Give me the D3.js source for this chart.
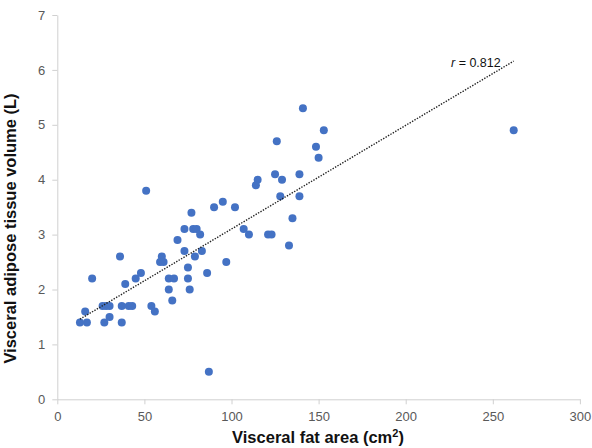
<!DOCTYPE html>
<html><head><meta charset="utf-8">
<script src="https://cdn.jsdelivr.net/npm/d3@7/dist/d3.min.js"></script>
<style>body{margin:0;background:#fff}svg{display:block}</style>
</head><body>
<script>
const fatArea = [20,51,36,39,45,48,60,59,61,64,67,64,66,73,69,73,77,78,80,82,79,83,75,75,76,86,90,95,102,97,13,17,16,26,28,30,27,30,37,41,43,37,54,56,87,141,153,126,148.5,150,125,139,115,114,129,128,139,135,107,110,121,123,133,262];
const vatVolume = [2.2,3.8,2.6,2.1,2.2,2.3,2.6,2.5,2.5,2.2,2.2,2.0,1.8,3.1,2.9,2.7,3.4,3.1,3.1,3.0,2.6,2.7,2.4,2.2,2.0,2.3,3.5,3.6,3.5,2.5,1.4,1.4,1.6,1.7,1.7,1.7,1.4,1.5,1.7,1.7,1.7,1.4,1.7,1.6,0.5,5.3,4.9,4.7,4.6,4.4,4.1,4.1,4.0,3.9,4.0,3.7,3.7,3.3,3.1,3.0,3.0,3.0,2.8,4.9];
const trendX = [13, 262];
const trendY = [1.46, 6.16];
const xTicks = [0,50,100,150,200,250,300];
const yTicks = [0,1,2,3,4,5,6,7];
const rLabel = "0.812";

const W = 592, H = 448;
const svg = d3.select("body").append("svg").attr("width", W).attr("height", H);
const x = d3.scaleLinear().domain([0,300]).range([57.3,579.9]);
const y = d3.scaleLinear().domain([0,7]).range([399.3,15]);
const font = "Arial, 'Liberation Sans', sans-serif";

const gx = svg.append("g").attr("transform", `translate(0,${y(0)})`)
  .call(d3.axisBottom(x).tickValues(xTicks).tickFormat(d3.format("d")).tickSize(5).tickPadding(7).tickSizeOuter(0));
const gy = svg.append("g").attr("transform", `translate(${x(0)},0)`)
  .call(d3.axisLeft(y).tickValues(yTicks).tickFormat(d3.format("d")).tickSize(5).tickPadding(7).tickSizeOuter(0));
[gx, gy].forEach(g => {
  g.select(".domain").attr("stroke", "#d0d0d0").attr("stroke-width", 1);
  g.selectAll(".tick line").attr("stroke", "#d0d0d0");
  g.selectAll(".tick text").attr("fill", "#595959").style("font-family", font).style("font-size", "13px");
});

const pts = fatArea.map((v,i) => [v, vatVolume[i]]);
svg.append("g").selectAll("circle").data(pts).join("circle")
  .attr("cx", d => x(d[0])).attr("cy", d => y(d[1])).attr("r", 4)
  .attr("fill", "#4472C4");

svg.append("line")
  .attr("x1", x(trendX[0])).attr("y1", y(trendY[0]))
  .attr("x2", x(trendX[1])).attr("y2", y(trendY[1]))
  .attr("stroke", "#222").attr("stroke-width", 1.4).attr("stroke-dasharray", "1.4,1.4");

const rt = svg.append("text").attr("x", 451).attr("y", 66.5)
  .style("font-family", font).style("font-size", "12.5px").attr("fill", "#111");
rt.append("tspan").style("font-style", "italic").text("r");
rt.append("tspan").text(" = " + rLabel);

const xt = svg.append("text").attr("x", 318).attr("y", 443).attr("text-anchor", "middle")
  .style("font-family", font).style("font-size", "16.5px").style("font-weight", "bold")
  .attr("fill", "#111");
xt.append("tspan").text("Visceral fat area (cm");
xt.append("tspan").attr("dy", -6).style("font-size", "11px").text("2");
xt.append("tspan").attr("dy", 6).text(")");

svg.append("text").attr("transform", "translate(16,228.5) rotate(-90)").attr("text-anchor", "middle")
  .style("font-family", font).style("font-size", "16.5px").style("font-weight", "bold")
  .attr("fill", "#111")
  .text("Visceral adipose tissue volume (L)");
</script>
</body></html>
